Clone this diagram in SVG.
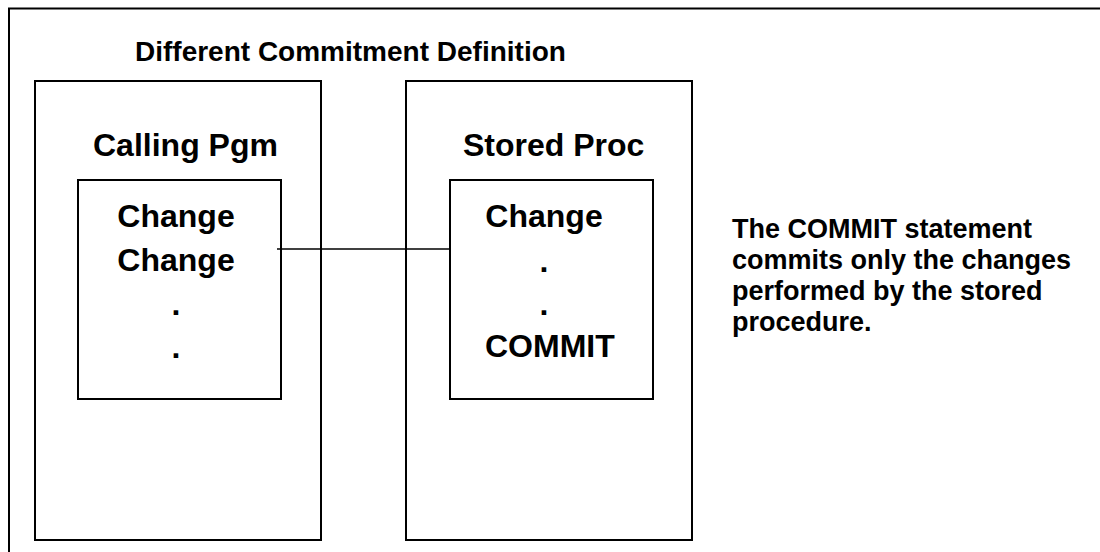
<svg xmlns="http://www.w3.org/2000/svg" width="1100" height="552" viewBox="0 0 1100 552">
<style>
.box{fill:none;stroke:#000;stroke-width:2}
.t{font-family:"Liberation Sans",Arial,sans-serif;font-weight:bold;fill:#000}
.big{font-size:32px}
.mid{font-size:27px}
.title{font-size:28px}
</style>
<rect width="1100" height="552" fill="#fff"/>
<path d="M9 552 V8.5 H1100" fill="none" stroke="#000" stroke-width="2"/>
<text class="t title" x="135" y="61">Different Commitment Definition</text>
<g id="calling-pgm">
<rect class="box" x="35" y="81" width="286" height="459"/>
<text class="t big" x="93" y="156">Calling Pgm</text>
</g>
<g id="calling-pgm-body">
<rect class="box" x="78" y="180" width="203" height="219"/>
<text class="t big" x="176" y="227" text-anchor="middle">Change</text>
<text class="t big" x="176" y="271" text-anchor="middle">Change</text>
<text class="t big" x="176" y="315" text-anchor="middle">.</text>
<text class="t big" x="176" y="358" text-anchor="middle">.</text>
</g>
<g id="stored-proc">
<rect class="box" x="406" y="81" width="286" height="459"/>
<text class="t big" x="463" y="156">Stored Proc</text>
</g>
<g id="stored-proc-body">
<rect class="box" x="450" y="180" width="203" height="219"/>
<text class="t big" x="544" y="227" text-anchor="middle">Change</text>
<text class="t big" x="544" y="272" text-anchor="middle">.</text>
<text class="t big" x="544" y="315" text-anchor="middle">.</text>
<text class="t big" x="485" y="357">COMMIT</text>
</g>
<g id="connectors">
<line x1="277" y1="249" x2="450" y2="249" stroke="#000" stroke-width="1.5"/>
</g>
<g id="note">
<text class="t mid" x="732" y="238">The COMMIT statement</text>
<text class="t mid" x="732" y="269">commits only the changes</text>
<text class="t mid" x="732" y="300">performed by the stored</text>
<text class="t mid" x="732" y="331">procedure.</text>
</g>
</svg>
